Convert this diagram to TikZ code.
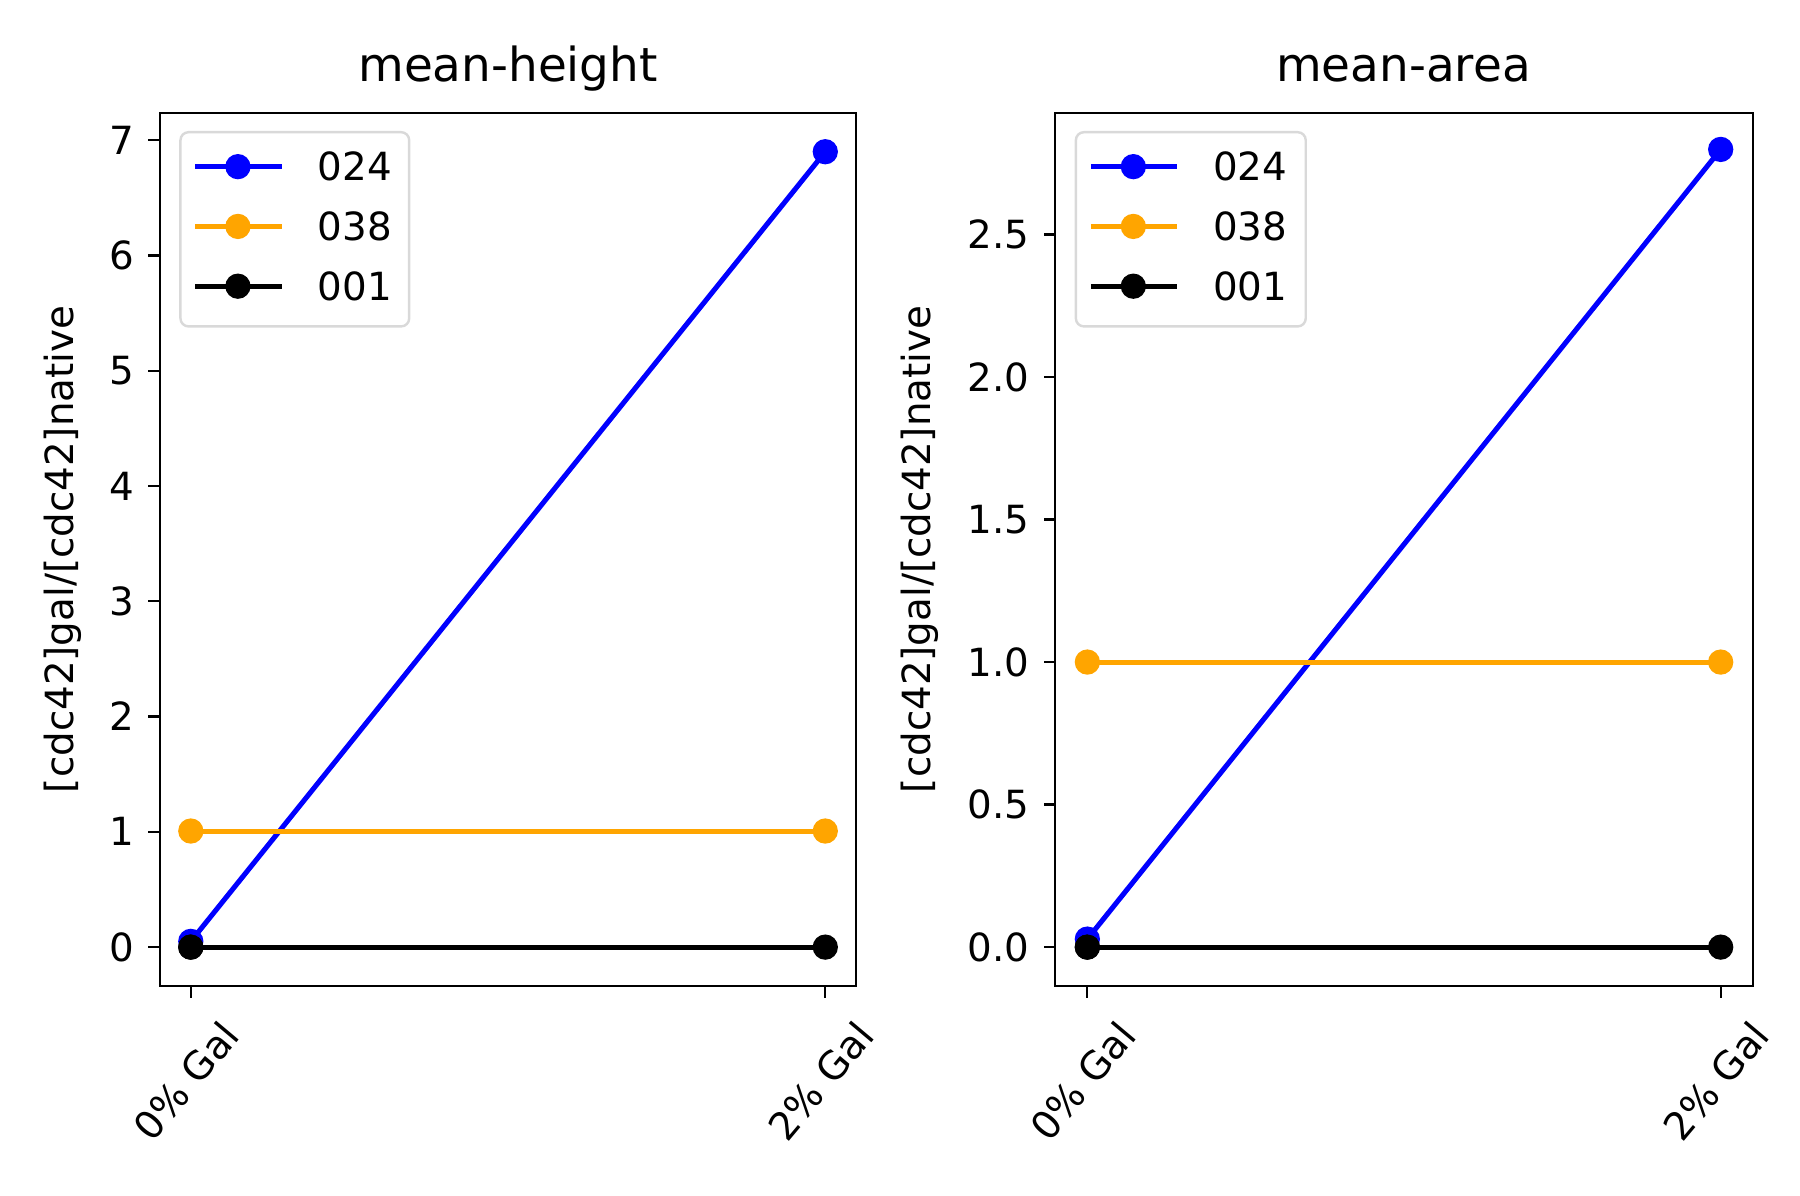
\documentclass[tikz,border=0pt]{standalone}
\usepackage{fontspec}
\setmainfont{DejaVu Sans}
\usepackage{xcolor}
\usepackage{tikz}
\definecolor{mplorange}{RGB}{255,165,0}
\begin{document}
\begin{tikzpicture}[x=0.01cm,y=-0.01cm,
frame/.style={draw, line width=0.55pt},
tick/.style={line width=0.55pt},
series/.style={line width=1.25pt},
dot/.style={circle, inner sep=0pt, minimum size=0.22cm},
lbl/.style={font=\fontsize{9.6}{11}\selectfont},
ttl/.style={font=\fontsize{11.6}{14}\selectfont},
legendbox/.style={draw=black!15, line width=0.6pt, rounded corners=2pt, fill=white}
]
\useasboundingbox (0,0) rectangle (1566,1040);

% left panel: mean-height
\draw[frame] (139,98) rectangle (745,858);
\node[ttl] (t1) at (442,60) {mean-height};
\foreach \v in {0,...,7} {
  \draw[tick] (139,824-100.3*\v) -- ++(-10,0) node[lbl, left] {\v};
}
\foreach \x/\t in {166/0\% Gal, 718/2\% Gal} {
  \draw[tick] (\x,858) -- ++(0,10);
  \node[lbl, rotate=50, anchor=north east, inner sep=1pt] at (\x+24,880) {\t};
}
\node[lbl, rotate=90] (yl1) at (55,478) {[cdc42]gal/[cdc42]native};
\node[dot, fill=blue] (a1) at (166,819) {};
\node[dot, fill=blue] (a2) at (718,132) {};
\node[dot, fill=mplorange] (b1) at (166,723) {};
\node[dot, fill=mplorange] (b2) at (718,723) {};
\node[dot, fill=black] (c1) at (166,824) {};
\node[dot, fill=black] (c2) at (718,824) {};
\draw[series, blue] (a1.center) -- (a2.center);
\draw[series, mplorange] (b1.center) -- (b2.center);
\draw[series, black] (c1.center) -- (c2.center);
\node[dot, fill=black] at (c1) {};
\draw[legendbox] (157,115) rectangle (356,284);
\foreach \yy/\c/\t in {145/blue/024, 197/mplorange/038, 249/black/001} {
  \draw[series, \c] (170,\yy) -- (245,\yy);
  \node[dot, fill=\c] at (207,\yy) {};
  \node[lbl, anchor=west] at (264,\yy) {\t};
}

% right panel: mean-area
\draw[frame] (918,98) rectangle (1525,858);
\node[ttl] (t2) at (1221,60) {mean-area};
\foreach \v in {0.0,0.5,1.0,1.5,2.0,2.5} {
  \draw[tick] (918,824-248*\v) -- ++(-10,0) node[lbl, left] {\v};
}
\foreach \x/\t in {946/0\% Gal, 1497/2\% Gal} {
  \draw[tick] (\x,858) -- ++(0,10);
  \node[lbl, rotate=50, anchor=north east, inner sep=1pt] at (\x+24,880) {\t};
}
\node[lbl, rotate=90] (yl2) at (800,478) {[cdc42]gal/[cdc42]native};
\node[dot, fill=blue] (d1) at (946,817) {};
\node[dot, fill=blue] (d2) at (1497,130) {};
\node[dot, fill=mplorange] (e1) at (946,576) {};
\node[dot, fill=mplorange] (e2) at (1497,576) {};
\node[dot, fill=black] (f1) at (946,824) {};
\node[dot, fill=black] (f2) at (1497,824) {};
\draw[series, blue] (d1.center) -- (d2.center);
\draw[series, mplorange] (e1.center) -- (e2.center);
\draw[series, black] (f1.center) -- (f2.center);
\node[dot, fill=black] at (f1) {};
\draw[legendbox] (936,115) rectangle (1136,284);
\foreach \yy/\c/\t in {145/blue/024, 197/mplorange/038, 249/black/001} {
  \draw[series, \c] (949,\yy) -- (1024,\yy);
  \node[dot, fill=\c] at (986,\yy) {};
  \node[lbl, anchor=west] at (1043,\yy) {\t};
}
\end{tikzpicture}
\end{document}
